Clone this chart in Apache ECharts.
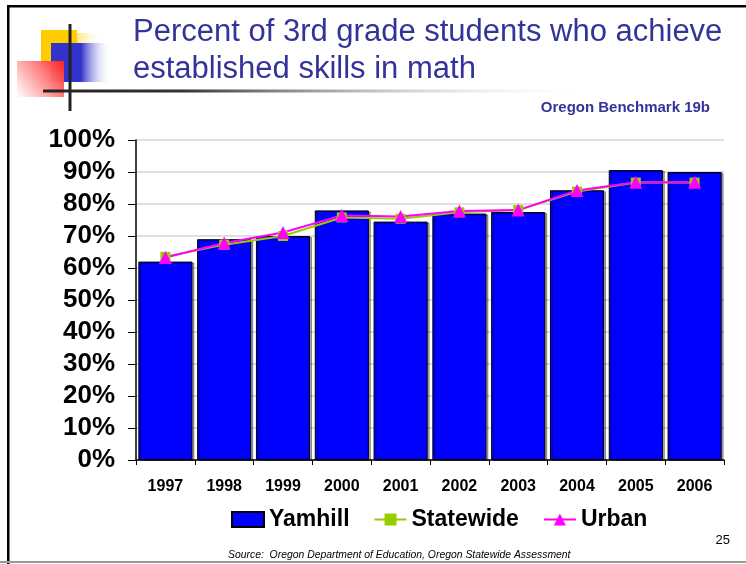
<!DOCTYPE html>
<html>
<head>
<meta charset="utf-8">
<script src="https://cdn.jsdelivr.net/npm/echarts@6/dist/echarts.min.js"></script>
<style>
  html, body { margin: 0; padding: 0; background: #fff; }
  #main { width: 746px; height: 564px; }
</style>
</head>
<body>
<div id="main"></div>
<script>
var years = ['1997', '1998', '1999', '2000', '2001', '2002', '2003', '2004', '2005', '2006'];
var yamhill = [62, 69, 70, 78, 74.5, 77, 77.5, 84.3, 90.6, 90];
var statewide = [63.5, 67.3, 70, 75.8, 75.4, 77.4, 78.1, 83.9, 86.7, 86.7];
var urban = [63.3, 67.8, 71.1, 76.4, 76.1, 77.8, 78.1, 84.2, 86.8, 86.8];
var yTicks = [0, 10, 20, 30, 40, 50, 60, 70, 80, 90, 100];

var chartDom = document.getElementById('main');
var myChart = echarts.init(chartDom);
var option;

var titleColor = '#333399';

option = {
    animation: false,
    textStyle: { fontFamily: 'Liberation Sans, Arial, sans-serif' },
    graphic: [
        // slide frame
        { type: 'rect', shape: { x: 7, y: 5, width: 746, height: 2.5 }, style: { fill: '#000' } },
        { type: 'rect', shape: { x: 7, y: 5, width: 2.5, height: 560 }, style: { fill: '#000' } },
        { type: 'rect', shape: { x: 0, y: 561, width: 746, height: 2 }, style: { fill: '#999' } },
        // decoration
        { type: 'rect', shape: { x: 41, y: 30, width: 36, height: 34 }, style: { fill: '#FFCC00' } },
        {
            type: 'rect', shape: { x: 77, y: 33, width: 26, height: 11 },
            style: { fill: new echarts.graphic.LinearGradient(0, 0, 1, 0, [
                { offset: 0, color: '#FFE680' }, { offset: 1, color: 'rgba(255,255,255,0)' }]) }
        },
        {
            type: 'rect', shape: { x: 51, y: 43, width: 60, height: 39 },
            style: { fill: new echarts.graphic.LinearGradient(0, 0, 1, 0, [
                { offset: 0, color: '#3333CC' }, { offset: 0.5, color: '#3333CC' },
                { offset: 1, color: 'rgba(255,255,255,0)' }]) }
        },
        {
            type: 'rect', shape: { x: 17, y: 61, width: 47, height: 36 },
            style: { fill: new echarts.graphic.LinearGradient(1, 0, 0, 1, [
                { offset: 0, color: '#FF2020' }, { offset: 1, color: 'rgba(255,255,255,0.9)' }]) }
        },
        { type: 'rect', shape: { x: 68.5, y: 24, width: 3, height: 87 }, style: { fill: '#222' } },
        {
            type: 'rect', shape: { x: 43, y: 89.5, width: 560, height: 3 },
            style: { fill: new echarts.graphic.LinearGradient(0, 0, 1, 0, [
                { offset: 0, color: '#222' }, { offset: 0.25, color: '#333' },
                { offset: 1, color: 'rgba(255,255,255,0)' }]) }
        },
        // titles
        {
            type: 'text', left: 133, top: 17,
            style: { text: 'Percent of 3rd grade students who achieve', fill: titleColor,
                font: '31px "Liberation Sans", Arial, sans-serif' }
        },
        {
            type: 'text', left: 133, top: 54,
            style: { text: 'established skills in math', fill: titleColor,
                font: '31px "Liberation Sans", Arial, sans-serif' }
        },
        {
            type: 'text', right: 36, top: 100,
            style: { text: 'Oregon Benchmark 19b', fill: titleColor,
                font: 'bold 15px "Liberation Sans", Arial, sans-serif' }
        },
        {
            type: 'text', right: 16, top: 534,
            style: { text: '25', fill: '#000', font: '13px "Liberation Sans", Arial, sans-serif' }
        },
        {
            type: 'text', left: 228, top: 550,
            style: { text: 'Source:  Oregon Department of Education, Oregon Statewide Assessment',
                fill: '#000', font: 'italic 10.4px "Liberation Sans", Arial, sans-serif' }
        }
    ],
    legend: {
        top: 503,
        left: 226,
        itemGap: 24,
        itemWidth: 32,
        itemHeight: 15,
        textStyle: { fontSize: 23, fontWeight: 'bold', color: '#000' },
        data: [
            { name: 'Yamhill', icon: 'rect' },
            { name: 'Statewide' },
            { name: 'Urban' }
        ]
    },
    grid: {
        left: 136,
        right: 22,
        top: 140,
        bottom: 104
    },
    xAxis: {
        type: 'category',
        data: years,
        axisLine: { lineStyle: { color: '#000', width: 1.5 } },
        axisTick: { show: true, length: 5, lineStyle: { color: '#000' } },
        axisLabel: { fontSize: 16, fontWeight: 'bold', color: '#000', margin: 19 }
    },
    yAxis: {
        type: 'value',
        min: 0,
        max: 100,
        interval: 10,
        axisLine: { show: true, lineStyle: { color: '#000', width: 1.5 } },
        axisTick: { show: true, length: 8, lineStyle: { color: '#000' } },
        axisLabel: {
            fontSize: 26, fontWeight: 'bold', color: '#000', margin: 21,
            formatter: function (v) { return yTicks.indexOf(v) >= 0 ? v + '%' : ''; }
        },
        splitLine: { lineStyle: { color: '#d4d4d4', width: 1.5 } }
    },
    series: [
        {
            name: 'Yamhill',
            type: 'bar',
            data: yamhill,
            barCategoryGap: '8%',
            itemStyle: {
                color: '#0000FF',
                borderColor: '#000',
                borderWidth: 1,
                shadowColor: 'rgba(0,0,0,0.35)',
                shadowOffsetX: 2,
                shadowOffsetY: 1,
                shadowBlur: 0
            }
        },
        {
            name: 'Statewide',
            type: 'line',
            data: statewide,
            symbol: 'rect',
            symbolSize: 10,
            lineStyle: { color: '#99CC00', width: 2 },
            itemStyle: { color: '#99CC00' }
        },
        {
            name: 'Urban',
            type: 'line',
            data: urban,
            symbol: 'triangle',
            symbolSize: 13,
            lineStyle: { color: '#FF00FF', width: 2 },
            itemStyle: { color: '#FF00FF' }
        }
    ]
};

option && myChart.setOption(option);
</script>
</body>
</html>
